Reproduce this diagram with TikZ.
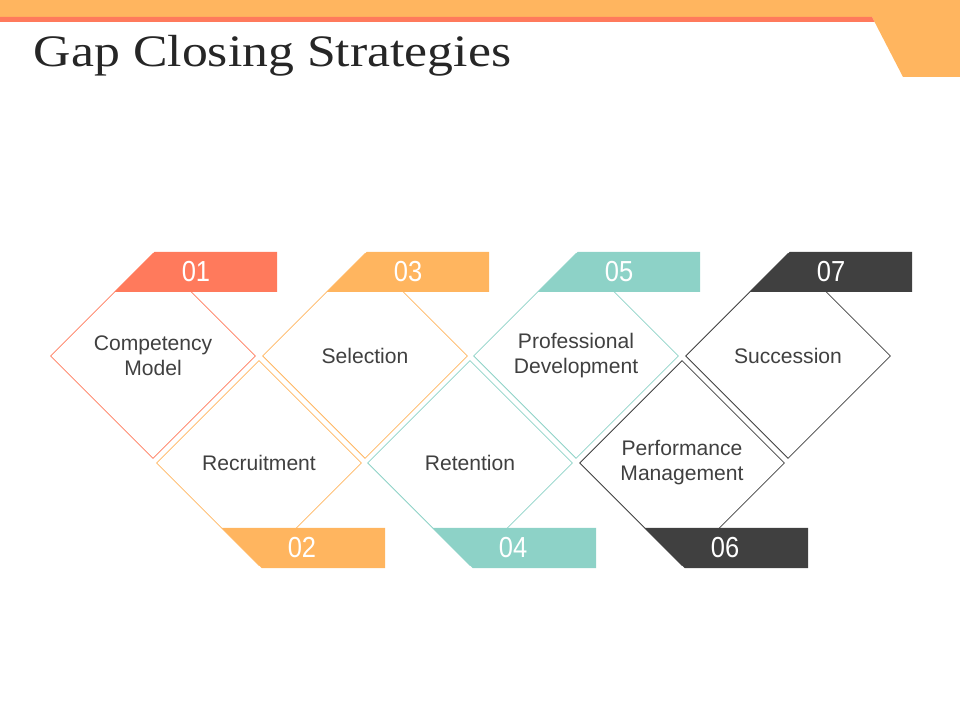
\documentclass[tikz,border=0pt]{standalone}
\usepackage{fontspec}
\usepackage{tikz}
\usetikzlibrary{shapes.geometric}
\newfontfamily\bodyfont{Liberation Sans}
\newfontfamily\numfont[FakeStretch=0.88]{Liberation Sans}
\newfontfamily\titlefont[FakeStretch=1.15]{Liberation Serif}
\definecolor{coral}{HTML}{FF7A5C}
\definecolor{amber}{HTML}{FFB55F}
\definecolor{teal}{HTML}{8DD2C7}
\definecolor{charcoal}{HTML}{404040}
\definecolor{inkgray}{HTML}{262626}
\tikzstyle{strategy} = [diamond, aspect=1, minimum width=5.125cm, minimum height=5.125cm, inner sep=0pt, line width=0.6pt, text=charcoal, align=center, font=\bodyfont\fontsize{15}{17.8}\selectfont]
\tikzstyle{tabnum} = [text=white, font=\numfont\fontsize{20.6}{22}\selectfont]
\tikzstyle{heading} = [anchor=base west, text=inkgray, font=\titlefont\fontsize{32}{36}\selectfont]

\begin{document}
\begin{tikzpicture}[x=0.025cm, y=-0.025cm]
        \useasboundingbox (0,0) rectangle (960,720);

        % header band
        \fill[amber] (0,0) -- (960,0) -- (960,77) -- (903,77) -- (872,17) -- (0,17) -- cycle;
        \fill[coral] (0,17) -- (872,17) -- (874.5,22) -- (0,22) -- cycle;
        \node (title) [heading] at (29,67) {Gap Closing Strategies};

        \node (competency) [strategy, draw=coral] at (153,356) {Competency\\Model};
        \node (recruitment) [strategy, draw=amber] at (259,463) {Recruitment};
        \node (selection) [strategy, draw=amber] at (365,356) {Selection};
        \node (retention) [strategy, draw=teal] at (470,463) {Retention};
        \node (development) [strategy, draw=teal] at (576,356) {Professional\\Development};
        \node (performance) [strategy, draw=charcoal] at (682,463) {Performance\\Management};
        \node (succession) [strategy, draw=charcoal] at (788,356) {Succession};

        % number tabs
        \fill[coral] (114.5,292) -- (154.5,252) -- (277,252) -- (277,292) -- cycle;
        \fill[amber] (221.5,528) -- (385,528) -- (385,568) -- (261.5,568) -- cycle;
        \fill[amber] (326.5,292) -- (366.5,252) -- (489,252) -- (489,292) -- cycle;
        \fill[teal] (432.5,528) -- (596,528) -- (596,568) -- (472.5,568) -- cycle;
        \fill[teal] (537.5,292) -- (577.5,252) -- (700,252) -- (700,292) -- cycle;
        \fill[charcoal] (644.5,528) -- (808,528) -- (808,568) -- (684.5,568) -- cycle;
        \fill[charcoal] (749.5,292) -- (789.5,252) -- (912,252) -- (912,292) -- cycle;

        \node (num01) [tabnum] at (196,272) {01};
        \node (num02) [tabnum] at (302,548) {02};
        \node (num03) [tabnum] at (408,272) {03};
        \node (num04) [tabnum] at (513,548) {04};
        \node (num05) [tabnum] at (619,272) {05};
        \node (num06) [tabnum] at (725,548) {06};
        \node (num07) [tabnum] at (831,272) {07};
    \end{tikzpicture}
\end{document}
